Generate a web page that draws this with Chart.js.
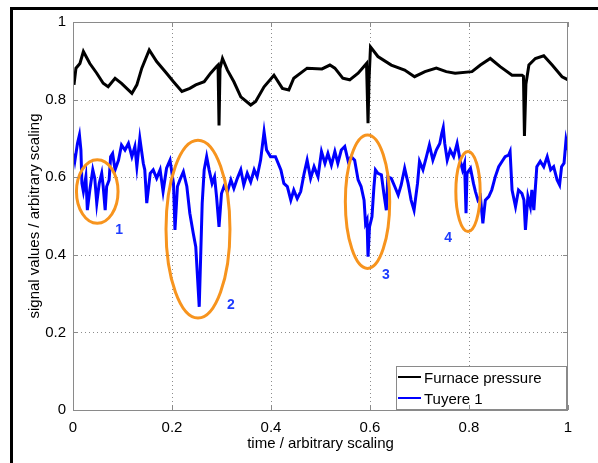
<!DOCTYPE html>
<html>
<head>
<meta charset="utf-8">
<script src="https://cdn.jsdelivr.net/npm/chart.js@4.4.1/dist/chart.umd.min.js"></script>
<style>
    body { margin: 0; background: #fff; }
    #wrap { position: relative; width: 598px; height: 463px; }
    #frame {
        position: absolute; left: 10px; top: 7px; right: 0; bottom: 0;
        border-left: 3px solid #000; border-top: 3px solid #000;
        pointer-events: none;
    }
</style>
</head>
<body>
<div id="wrap">
    <canvas id="chart" width="598" height="463"></canvas>
    <div id="frame"></div>
</div>
<script>
// Furnace pressure (black)
const pressureT = [0.002, 0.006, 0.014, 0.021, 0.034, 0.048, 0.061, 0.071, 0.085, 0.098,
    0.119, 0.129, 0.139, 0.154, 0.169, 0.189, 0.203, 0.220, 0.236, 0.248,
    0.265, 0.278, 0.290, 0.293, 0.295, 0.297, 0.302, 0.312, 0.325, 0.339,
    0.359, 0.369, 0.386, 0.406, 0.423, 0.436, 0.446, 0.473, 0.503, 0.519,
    0.529, 0.545, 0.559, 0.576, 0.593, 0.596, 0.598, 0.601, 0.616, 0.643,
    0.670, 0.690, 0.711, 0.734, 0.754, 0.772, 0.806, 0.823, 0.843, 0.863,
    0.887, 0.907, 0.910, 0.912, 0.915, 0.921, 0.934, 0.951, 0.968, 0.988, 1.000];
const pressureV = [0.838, 0.881, 0.893, 0.924, 0.893, 0.868, 0.842, 0.833, 0.855, 0.842,
    0.816, 0.838, 0.881, 0.928, 0.898, 0.868, 0.846, 0.821, 0.829, 0.838,
    0.846, 0.868, 0.885, 0.889, 0.733, 0.880, 0.906, 0.876, 0.846, 0.807,
    0.786, 0.795, 0.833, 0.863, 0.829, 0.825, 0.855, 0.881, 0.879, 0.889,
    0.881, 0.855, 0.851, 0.868, 0.893, 0.739, 0.850, 0.936, 0.911, 0.889,
    0.876, 0.859, 0.872, 0.881, 0.872, 0.868, 0.872, 0.889, 0.906, 0.885,
    0.863, 0.863, 0.860, 0.706, 0.840, 0.889, 0.906, 0.913, 0.889, 0.859, 0.851];

// Tuyere 1 (blue)
const tuyereT = [0.002, 0.004, 0.009, 0.013, 0.016, 0.018, 0.021, 0.026, 0.029, 0.034,
    0.040, 0.044, 0.048, 0.053, 0.058, 0.061, 0.065, 0.068, 0.073, 0.076,
    0.080, 0.085, 0.092, 0.098, 0.105, 0.112, 0.119, 0.125, 0.129, 0.135,
    0.142, 0.145, 0.149, 0.156, 0.162, 0.169, 0.176, 0.182, 0.189, 0.196,
    0.203, 0.206, 0.211, 0.216, 0.223, 0.230, 0.236, 0.243, 0.248, 0.255,
    0.261, 0.265, 0.270, 0.275, 0.281, 0.286, 0.290, 0.295, 0.300, 0.305,
    0.312, 0.319, 0.325, 0.332, 0.339, 0.345, 0.352, 0.359, 0.366, 0.372,
    0.379, 0.386, 0.391, 0.399, 0.409, 0.420, 0.426, 0.433, 0.440, 0.446,
    0.453, 0.460, 0.467, 0.473, 0.480, 0.487, 0.495, 0.502, 0.509, 0.515,
    0.522, 0.529, 0.535, 0.542, 0.549, 0.556, 0.562, 0.569, 0.576, 0.582,
    0.588, 0.591, 0.594, 0.596, 0.599, 0.604, 0.608, 0.611, 0.616, 0.623,
    0.628, 0.633, 0.636, 0.643, 0.650, 0.657, 0.663, 0.670, 0.677, 0.683,
    0.689, 0.696, 0.700, 0.707, 0.714, 0.720, 0.727, 0.734, 0.741, 0.745,
    0.748, 0.751, 0.756, 0.762, 0.769, 0.776, 0.782, 0.787, 0.791, 0.794,
    0.796, 0.803, 0.809, 0.813, 0.818, 0.823, 0.828, 0.833, 0.840, 0.846,
    0.853, 0.860, 0.867, 0.873, 0.880, 0.883, 0.887, 0.894, 0.900, 0.907,
    0.911, 0.914, 0.919, 0.924, 0.927, 0.931, 0.937, 0.944, 0.951, 0.958,
    0.965, 0.971, 0.978, 0.983, 0.987, 0.992, 0.996, 1.000];
const tuyereV = [0.661, 0.644, 0.687, 0.709, 0.670, 0.584, 0.563, 0.601, 0.515, 0.567,
    0.619, 0.597, 0.533, 0.584, 0.610, 0.576, 0.515, 0.576, 0.593, 0.653,
    0.661, 0.619, 0.644, 0.683, 0.670, 0.687, 0.653, 0.679, 0.627, 0.700,
    0.636, 0.619, 0.533, 0.610, 0.619, 0.597, 0.619, 0.563, 0.623, 0.644,
    0.584, 0.464, 0.576, 0.593, 0.614, 0.576, 0.507, 0.455, 0.421, 0.266,
    0.533, 0.619, 0.653, 0.619, 0.584, 0.601, 0.550, 0.472, 0.558, 0.576,
    0.563, 0.593, 0.571, 0.597, 0.619, 0.580, 0.610, 0.588, 0.619, 0.601,
    0.644, 0.717, 0.670, 0.653, 0.653, 0.619, 0.584, 0.576, 0.541, 0.567,
    0.545, 0.563, 0.610, 0.644, 0.597, 0.627, 0.601, 0.666, 0.636, 0.661,
    0.631, 0.666, 0.636, 0.670, 0.679, 0.641, 0.653, 0.644, 0.593, 0.576,
    0.541, 0.481, 0.490, 0.395, 0.472, 0.498, 0.576, 0.619, 0.610, 0.606,
    0.558, 0.515, 0.601, 0.597, 0.576, 0.554, 0.580, 0.623, 0.584, 0.541,
    0.515, 0.584, 0.641, 0.619, 0.653, 0.683, 0.644, 0.670, 0.687, 0.713,
    0.728, 0.687, 0.644, 0.670, 0.653, 0.687, 0.644, 0.619, 0.636, 0.507,
    0.610, 0.623, 0.584, 0.563, 0.541, 0.550, 0.481, 0.541, 0.550, 0.567,
    0.601, 0.627, 0.641, 0.653, 0.657, 0.666, 0.567, 0.524, 0.567, 0.558,
    0.541, 0.464, 0.550, 0.524, 0.567, 0.515, 0.627, 0.641, 0.627, 0.653,
    0.619, 0.627, 0.593, 0.580, 0.627, 0.636, 0.696, 0.670];

const tickValues = [0, 0.2, 0.4, 0.6, 0.8, 1];

// highlighted events: ellipse centre and radii in data units, plus the number label
const eventLabels = ['1', '2', '3', '4'];
const eventT = [0.049, 0.2525, 0.595, 0.798];
const eventV = [0.563, 0.466, 0.537, 0.563];
const eventRadT = [0.042, 0.0646, 0.0448, 0.0246];
const eventRadV = [0.082, 0.229, 0.172, 0.103];
const labelT = [0.093, 0.319, 0.632, 0.758];
const labelV = [0.463, 0.271, 0.348, 0.443];

const FONT = "'Liberation Sans', Arial, Helvetica, sans-serif";

function toPoints(ts, vs) {
    return ts.map((t, i) => ({ x: t, y: vs[i] }));
}

// dotted grid, drawn under the lines
const dottedGrid = {
    id: 'dottedGrid',
    beforeDatasetsDraw(chart) {
        const { ctx, chartArea: a, scales } = chart;
        ctx.save();
        ctx.strokeStyle = '#8c8c8c';
        ctx.lineWidth = 1;
        ctx.setLineDash([1, 3]);
        ctx.beginPath();
        tickValues.slice(1, -1).forEach(v => {
            const px = Math.round(scales.x.getPixelForValue(v)) + 0.5;
            ctx.moveTo(px, a.bottom); ctx.lineTo(px, a.top);
            const py = Math.round(scales.y.getPixelForValue(v)) + 0.5;
            ctx.moveTo(a.left, py); ctx.lineTo(a.right, py);
        });
        ctx.stroke();
        ctx.restore();
    }
};

// box around plot area + inward ticks (matlab style)
const axisBox = {
    id: 'axisBox',
    afterDraw(chart) {
        const { ctx, chartArea: a, scales } = chart;
        ctx.save();
        ctx.strokeStyle = '#8a8a8a';
        ctx.lineWidth = 1;
        ctx.strokeRect(a.left + 0.5, a.top + 0.5, a.right - a.left - 1, a.bottom - a.top);
        ctx.beginPath();
        tickValues.forEach(v => {
            const px = Math.round(scales.x.getPixelForValue(v)) + 0.5;
            ctx.moveTo(px, a.bottom); ctx.lineTo(px, a.bottom - 5);
            ctx.moveTo(px, a.top); ctx.lineTo(px, a.top + 5);
            const py = Math.round(scales.y.getPixelForValue(v)) + 0.5;
            ctx.moveTo(a.left, py); ctx.lineTo(a.left + 5, py);
            ctx.moveTo(a.right, py); ctx.lineTo(a.right - 5, py);
        });
        ctx.stroke();
        ctx.restore();
    }
};

const eventMarks = {
    id: 'eventMarks',
    afterDatasetsDraw(chart) {
        const { ctx, scales } = chart;
        const sx = scales.x, sy = scales.y;
        ctx.save();
        ctx.strokeStyle = '#f7941e';
        ctx.lineWidth = 3;
        eventT.forEach((t, i) => {
            const cx = sx.getPixelForValue(t);
            const cy = sy.getPixelForValue(eventV[i]);
            const rx = sx.getPixelForValue(t + eventRadT[i]) - cx;
            const ry = cy - sy.getPixelForValue(eventV[i] + eventRadV[i]);
            ctx.beginPath();
            ctx.ellipse(cx, cy, rx, ry, 0, 0, Math.PI * 2);
            ctx.stroke();
        });
        ctx.fillStyle = '#1e3cff';
        ctx.font = 'bold 14px ' + FONT;
        ctx.textAlign = 'center';
        ctx.textBaseline = 'middle';
        eventLabels.forEach((txt, i) => {
            ctx.fillText(txt, sx.getPixelForValue(labelT[i]), sy.getPixelForValue(labelV[i]));
        });
        ctx.restore();
    }
};

// legend drawn inside the plot, lower right
const boxLegend = {
    id: 'boxLegend',
    afterDraw(chart) {
        const { ctx, chartArea: a } = chart;
        const w = 170, h = 43;
        const x0 = a.right - 2 - w, y0 = a.bottom - 1 - h;
        ctx.save();
        ctx.fillStyle = '#fff';
        ctx.fillRect(x0, y0, w, h);
        ctx.strokeStyle = '#8a8a8a';
        ctx.lineWidth = 1;
        ctx.strokeRect(x0 + 0.5, y0 + 0.5, w, h);
        ctx.font = '15px ' + FONT;
        ctx.textBaseline = 'middle';
        chart.data.datasets.forEach((ds, i) => {
            const y = y0 + 11 + i * 21;
            ctx.strokeStyle = ds.borderColor;
            ctx.lineWidth = 2;
            ctx.beginPath();
            ctx.moveTo(x0 + 2, y);
            ctx.lineTo(x0 + 25, y);
            ctx.stroke();
            ctx.fillStyle = '#000';
            ctx.fillText(ds.label, x0 + 28, y + 2);
        });
        ctx.restore();
    }
};

new Chart(document.getElementById('chart'), {
    type: 'line',
    data: {
        datasets: [
            {
                label: 'Furnace pressure',
                data: toPoints(pressureT, pressureV),
                borderColor: '#000',
                borderWidth: 3,
                pointRadius: 0,
                tension: 0
            },
            {
                label: 'Tuyere 1',
                data: toPoints(tuyereT, tuyereV),
                borderColor: '#0000ff',
                borderWidth: 3,
                pointRadius: 0,
                tension: 0
            }
        ]
    },
    options: {
        responsive: false,
        animation: false,
        events: [],
        layout: { padding: { top: 22, right: 30, left: 0, bottom: 0 } },
        plugins: {
            legend: { display: false },
            tooltip: { enabled: false }
        },
        scales: {
            x: {
                type: 'linear',
                min: 0,
                max: 1,
                afterFit: s => { s.height = 53; },
                afterBuildTicks: s => { s.ticks = tickValues.map(v => ({ value: v })); },
                ticks: {
                    color: '#000',
                    padding: 9,
                    font: { family: FONT, size: 15 },
                    callback: v => String(+v.toFixed(1))
                },
                grid: { display: false, drawTicks: false },
                border: { display: false },
                title: {
                    display: true,
                    text: 'time / arbitrary scaling',
                    color: '#000',
                    font: { family: FONT, size: 15 },
                    padding: { top: 0, bottom: 10 }
                }
            },
            y: {
                min: 0,
                max: 1,
                afterFit: s => { s.width = 73; },
                afterBuildTicks: s => { s.ticks = tickValues.map(v => ({ value: v })); },
                ticks: {
                    color: '#000',
                    padding: 7,
                    font: { family: FONT, size: 15 },
                    callback: v => String(+v.toFixed(1))
                },
                grid: { display: false, drawTicks: false },
                border: { display: false },
                title: {
                    display: true,
                    text: 'signal values / arbitrary scaling',
                    color: '#000',
                    font: { family: FONT, size: 15 },
                    padding: { top: 26, bottom: 0 }
                }
            }
        }
    },
    plugins: [dottedGrid, eventMarks, boxLegend, axisBox]
});
</script>
</body>
</html>
